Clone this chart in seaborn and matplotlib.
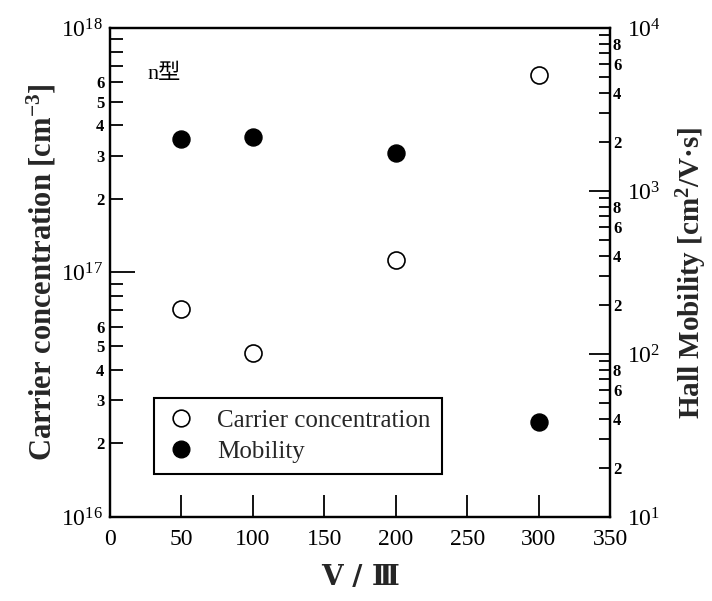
import numpy as np
import pandas as pd
import matplotlib
matplotlib.use("Agg")
import matplotlib.pyplot as plt
import matplotlib.ticker as mticker
from matplotlib.lines import Line2D
import seaborn as sns

# V/III ratio and measured Hall data
v3_ratio = [50, 100, 200, 300]
carrier_conc = [7.1e16, 4.7e16, 1.13e17, 6.4e17]   # cm^-3
hall_mobility = [2080, 2140, 1720, 38]              # cm^2/V·s

x_ticks = [0, 50, 100, 150, 200, 250, 300, 350]
left_minor_labels = [2, 3, 4, 5, 6]
right_minor_labels = [2, 4, 6, 8]

sns.set_theme(style="white")
plt.rcParams["font.family"] = ["Liberation Serif", "Noto Sans CJK JP"]
plt.rcParams["mathtext.fontset"] = "custom"
plt.rcParams["mathtext.rm"] = "Liberation Serif"
plt.rcParams["mathtext.bf"] = "Liberation Serif:bold"

df_c = pd.DataFrame({"ratio": v3_ratio, "value": carrier_conc})
df_m = pd.DataFrame({"ratio": v3_ratio, "value": hall_mobility})

fig = plt.figure(figsize=(7.12, 6.01), dpi=100)
ax = fig.add_axes([0.1545, 0.1398, 0.7025, 0.8136])
ax2 = ax.twinx()

sns.scatterplot(data=df_c, x="ratio", y="value", ax=ax, s=150, marker="o",
                facecolor="white", edgecolor="black", linewidth=1.2, zorder=3)
sns.scatterplot(data=df_m, x="ratio", y="value", ax=ax2, s=150, marker="o",
                color="black", edgecolor="black", linewidth=1.0, zorder=3)

ax.set_xlim(0, 350)
ax.set_yscale("log")
ax.set_ylim(1e16, 1e18)
ax2.set_yscale("log")
ax2.set_ylim(1e1, 1e4)

for a in (ax, ax2):
    for s in a.spines.values():
        s.set_linewidth(1.6)
        s.set_color("black")

# x axis
ax.set_xticks(x_ticks)
ax.set_xticklabels([str(t) for t in x_ticks], fontsize=17)
ax.tick_params(axis="x", direction="in", length=16, width=1.3, pad=9,
               bottom=True, top=False, colors="black")


def log_major(v, pos):
    return r"$\mathregular{10^{%d}}$" % int(round(np.log10(v)))


def minor_formatter(shown):
    def fmt(v, pos):
        m = int(round(v / 10 ** np.floor(np.log10(v) + 1e-9)))
        return str(m) if m in shown else ""
    return mticker.FuncFormatter(fmt)


# left log axis
left_minor = [m * 10 ** e for e in (16, 17) for m in range(2, 10)]
ax.yaxis.set_major_locator(mticker.FixedLocator([1e16, 1e17, 1e18]))
ax.yaxis.set_major_formatter(mticker.FuncFormatter(log_major))
ax.yaxis.set_minor_locator(mticker.FixedLocator(left_minor))
ax.yaxis.set_minor_formatter(minor_formatter(left_minor_labels))
ax.tick_params(axis="y", which="major", direction="in", length=18, width=1.3,
               labelsize=17, pad=5, left=True, right=False, colors="black")
ax.tick_params(axis="y", which="minor", direction="in", length=9, width=1.3,
               labelsize=12, pad=4, left=True, right=False, colors="black")
for lbl in ax.yaxis.get_minorticklabels():
    lbl.set_fontweight("bold")

# right log axis
right_minor = [m * 10 ** e for e in (1, 2, 3) for m in range(2, 10)]
ax2.yaxis.set_major_locator(mticker.FixedLocator([1e1, 1e2, 1e3, 1e4]))
ax2.yaxis.set_major_formatter(mticker.FuncFormatter(log_major))
ax2.yaxis.set_minor_locator(mticker.FixedLocator(right_minor))
ax2.yaxis.set_minor_formatter(minor_formatter(right_minor_labels))
ax2.tick_params(axis="y", which="major", direction="in", length=15, width=1.3,
                labelsize=17, pad=12, right=True, left=False, colors="black")
ax2.tick_params(axis="y", which="minor", direction="in", length=8, width=1.3,
                labelsize=12, pad=2, right=True, left=False, colors="black")
for lbl in ax2.yaxis.get_minorticklabels():
    lbl.set_fontweight("bold")

ax.set_xlabel("V / Ⅲ", fontsize=20, fontweight="bold", labelpad=10,
              family=["DejaVu Serif"])
ax.set_ylabel(r"Carrier concentration [cm$\mathregular{^{-3}}$]", fontsize=22,
              fontweight="bold", labelpad=2)
ax2.set_ylabel(r"Hall Mobility [cm$\mathregular{^{2}}$/V·s]", fontsize=21,
               fontweight="bold", labelpad=10)

ax.text(0.075, 0.905, "n型", transform=ax.transAxes, fontsize=16,
        ha="left", va="center", color="black")

handles = [
    Line2D([], [], marker="o", linestyle="none", markersize=12,
           markerfacecolor="white", markeredgecolor="black", markeredgewidth=1.2),
    Line2D([], [], marker="o", linestyle="none", markersize=12,
           markerfacecolor="black", markeredgecolor="black"),
]
leg = ax2.legend(handles, ["Carrier concentration", "Mobility"],
                 loc="lower left", bbox_to_anchor=(0.062, 0.062),
                 fontsize=18, frameon=True, fancybox=False, framealpha=1,
                 edgecolor="black", handletextpad=0.8, borderpad=0.45,
                 labelspacing=0.35, handlelength=1.3)
leg.get_frame().set_linewidth(1.5)

ax.set_zorder(ax2.get_zorder() + 1)
ax.patch.set_visible(False)

fig.savefig("out.png", dpi=100)
